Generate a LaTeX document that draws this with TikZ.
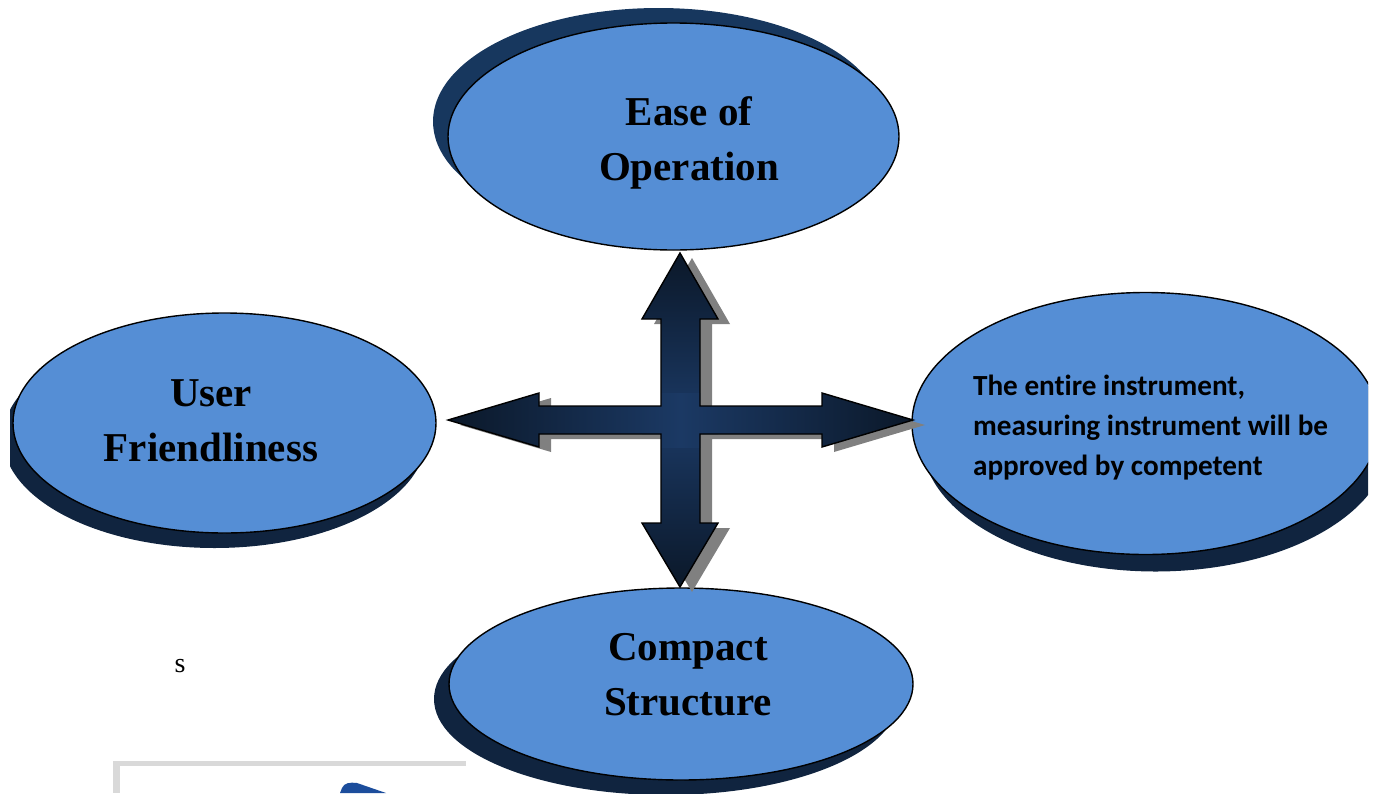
\documentclass[tikz,border=0pt]{standalone}
\usepackage{fontspec}
\setmainfont{Liberation Serif}
\newfontfamily\calibri[Ligatures=NoCommon]{Carlito}
\usepackage{xcolor}
\usetikzlibrary{shapes.geometric,shadows,positioning}
\definecolor{ovalblue}{HTML}{558ED5}
\definecolor{navyshade}{HTML}{10243F}
\definecolor{navytop}{HTML}{17375E}
\definecolor{crossdark}{HTML}{0B1829}
\definecolor{crosslight}{HTML}{1B3964}
\definecolor{blobblue}{HTML}{1C4D9C}
\newcommand\crossoutline{(680,253) -- (718,319) -- (700,319) -- (700,406) -- (822,406) -- (822,393)
  -- (913,420) -- (822,447) -- (822,434) -- (700,434) -- (700,523) -- (718,523) -- (680,587)
  -- (642,523) -- (661,523) -- (661,434) -- (539,434) -- (539,447) -- (448,420) -- (539,393)
  -- (539,406) -- (661,406) -- (661,319) -- (642,319) -- cycle}
\tikzset{
  oval/.style={ellipse, draw, line width=0.7pt, fill=ovalblue, inner sep=0pt},
  bigtext/.style={font=\fontsize{20.5}{27.5}\selectfont\bfseries, align=center},
  smalltext/.style={font=\calibri\fontsize{14.6}{20}\selectfont\bfseries, align=left}
}
\begin{document}
\begin{tikzpicture}[x=0.5pt, y=-0.5pt]
\useasboundingbox (0,0) rectangle (1376,793);

\fill[gray!30] (113,761) rectangle (466,793);
\fill[white] (120,766) rectangle (470,793);
\fill[blobblue] (340,793) -- (342,788) .. controls (344,783) and (350,782) .. (357,783) -- (386,793) -- cycle;

\begin{scope}
\clip (10,0) rectangle (1368,793);
\node[oval, minimum width=225.5pt, minimum height=113.5pt,
  drop shadow={shadow xshift=-7.5pt, shadow yshift=7.5pt, fill=navytop, opacity=1}] (ease) at (673.5,136.5) {};
\node[oval, minimum width=211.5pt, minimum height=110pt,
  drop shadow={shadow xshift=-5pt, shadow yshift=-7.5pt, fill=navyshade, opacity=1}] (user) at (224.5,423) {};
\node[oval, minimum width=233.6pt, minimum height=131pt,
  drop shadow={shadow xshift=5pt, shadow yshift=-8.5pt, fill=navyshade, opacity=1}] (approval) at (1145.6,423.5) {};
\node[oval, minimum width=232pt, minimum height=96pt,
  drop shadow={shadow xshift=-7.5pt, shadow yshift=-7.5pt, fill=navyshade, opacity=1}] (compact) at (681,684) {};
\end{scope}

\node[bigtext] (easetext) at (689,143) {Ease of\\Operation};
\node[bigtext] (usertext) at (211,421) {User\\Friendliness};
\node[bigtext] (compacttext) at (688,675) {Compact\\Structure};
\node[smalltext, anchor=west] (approvaltext) at (966,428) {The entire instrument,\\measuring instrument will be\\approved by competent};
\node[font=\fontsize{14}{16}\selectfont, anchor=base] (stray) at (180,672) {s};

\fill[gray] [shift={(12,5)}] \crossoutline;
\begin{scope}
\clip \crossoutline;
\shade[top color=crossdark, bottom color=crossdark, middle color=crosslight] (642,253) rectangle (718,587);
\shade[left color=crossdark, right color=crossdark, middle color=crosslight] (448,393) rectangle (913,447);
\end{scope}
\draw[line width=0.7pt] \crossoutline;
\end{tikzpicture}
\end{document}
